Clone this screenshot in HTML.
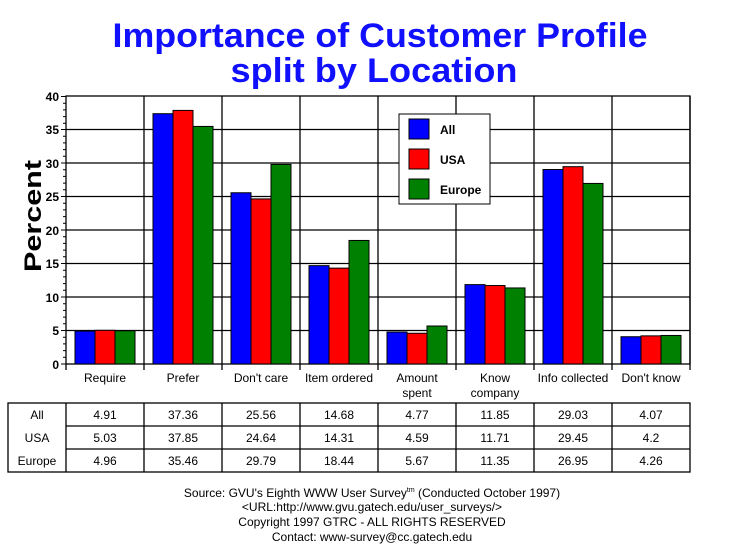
<!DOCTYPE html>
<html><head><style>body{margin:0;background:#fff}svg{display:block}</style></head><body>
<svg width="729" height="553" xmlns="http://www.w3.org/2000/svg" font-family="Liberation Sans, Arial, sans-serif">
<rect width="729" height="553" fill="#fff"/>
<text x="380" y="47" text-anchor="middle" font-size="34" font-weight="bold" fill="#1010ff" textLength="535" lengthAdjust="spacingAndGlyphs">Importance of Customer Profile</text>
<text x="374" y="82" text-anchor="middle" font-size="34" font-weight="bold" fill="#1010ff" textLength="287" lengthAdjust="spacingAndGlyphs">split by Location</text>
<text transform="translate(41,216) rotate(-90)" text-anchor="middle" font-size="24" font-weight="bold" fill="#000" textLength="112" lengthAdjust="spacingAndGlyphs">Percent</text>
<g stroke="#000" stroke-width="1.3" fill="none">
<rect x="66" y="96" width="624" height="268"/>
<path d="M66 129.5H690M66 163H690M66 196.5H690M66 230H690M66 263.5H690M66 297H690M66 330.5H690"/>
<path d="M144 96V370M222 96V370M300 96V370M378 96V370M456 96V370M534 96V370M612 96V370M690 96V370M66 364V370"/>
</g>
<g stroke="#000" stroke-width="1">
<path d="M61 96.5H66M61 129.5H66M61 163H66M61 196.5H66M61 230H66M61 263.5H66M61 297H66M61 330.5H66M61 364H66"/>
<path d="M63 103.2H66M63 109.9H66M63 116.6H66M63 123.3H66M63 136.2H66M63 142.9H66M63 149.6H66M63 156.3H66M63 169.7H66M63 176.4H66M63 183.1H66M63 189.8H66M63 203.2H66M63 209.9H66M63 216.6H66M63 223.3H66M63 236.7H66M63 243.4H66M63 250.1H66M63 256.8H66M63 270.2H66M63 276.9H66M63 283.6H66M63 290.3H66M63 303.7H66M63 310.4H66M63 317.1H66M63 323.8H66M63 337.2H66M63 343.9H66M63 350.6H66M63 357.3H66"/>
</g>
<g font-size="12" font-weight="bold" text-anchor="end" fill="#000">
<text x="59" y="101">40</text><text x="59" y="134">35</text><text x="59" y="168">30</text><text x="59" y="201">25</text><text x="59" y="235">20</text><text x="59" y="268">15</text><text x="59" y="302">10</text><text x="59" y="335">5</text><text x="59" y="369">0</text>
</g>
<g stroke="#000" stroke-width="1" id="bars"></g>
<rect x="399" y="114" width="91" height="90" fill="#fff" stroke="#000"/>
<rect x="409" y="119" width="20" height="20" fill="#0000ff" stroke="#000"/>
<rect x="409" y="149" width="20" height="20" fill="#ff0000" stroke="#000"/>
<rect x="409" y="179" width="20" height="20" fill="#008000" stroke="#000"/>
<g font-size="12" font-weight="bold"><text x="440" y="134">All</text><text x="440" y="164">USA</text><text x="440" y="194">Europe</text></g>
<g font-size="12" text-anchor="middle" fill="#000">
<text x="105" y="382">Require</text><text x="183" y="382">Prefer</text><text x="261" y="382">Don't care</text><text x="339" y="382">Item ordered</text><text x="417" y="382">Amount</text><text x="417" y="397">spent</text><text x="495" y="382">Know</text><text x="495" y="397">company</text><text x="573" y="382">Info collected</text><text x="651" y="382">Don't know</text>
</g>
<g stroke="#000" stroke-width="1.3" fill="none">
<rect x="8" y="403" width="682" height="69"/>
<path d="M66 403V472M144 403V472M222 403V472M300 403V472M378 403V472M456 403V472M534 403V472M612 403V472M66 426H690M66 449H690"/>
</g>
<g font-size="12" text-anchor="middle" fill="#000" id="tbl">
<text x="37" y="419">All</text><text x="37" y="442">USA</text><text x="37" y="465">Europe</text>
</g>
<g font-size="12" text-anchor="middle" fill="#000">
<text x="372" y="497">Source: GVU's Eighth WWW User Survey<tspan font-size="7" dy="-5">tm</tspan><tspan dy="5"> (Conducted October 1997)</tspan></text>
<text x="372" y="511">&lt;URL:http://www.gvu.gatech.edu/user_surveys/&gt;</text>
<text x="372" y="526">Copyright 1997 GTRC - ALL RIGHTS RESERVED</text>
<text x="372" y="541">Contact: www-survey@cc.gatech.edu</text>
</g>
<script>
var d=[[4.91,5.03,4.96],[37.36,37.85,35.46],[25.56,24.64,29.79],[14.68,14.31,18.44],[4.77,4.59,5.67],[11.85,11.71,11.35],[29.03,29.45,26.95],[4.07,4.2,4.26]];
var c=["#0000ff","#ff0000","#008000"],ns="http://www.w3.org/2000/svg",b=document.getElementById("bars"),t=document.getElementById("tbl");
d.forEach(function(r,i){r.forEach(function(v,j){var e=document.createElementNS(ns,"rect");var h=v*6.7;e.setAttribute("x",66+i*78+9+j*20);e.setAttribute("y",364-h);e.setAttribute("width",20);e.setAttribute("height",h);e.setAttribute("fill",c[j]);b.appendChild(e);
var x=document.createElementNS(ns,"text");x.setAttribute("x",105+i*78);x.setAttribute("y",419+j*23);x.textContent=String(v);t.appendChild(x);});});
</script>
</svg>
</body></html>
